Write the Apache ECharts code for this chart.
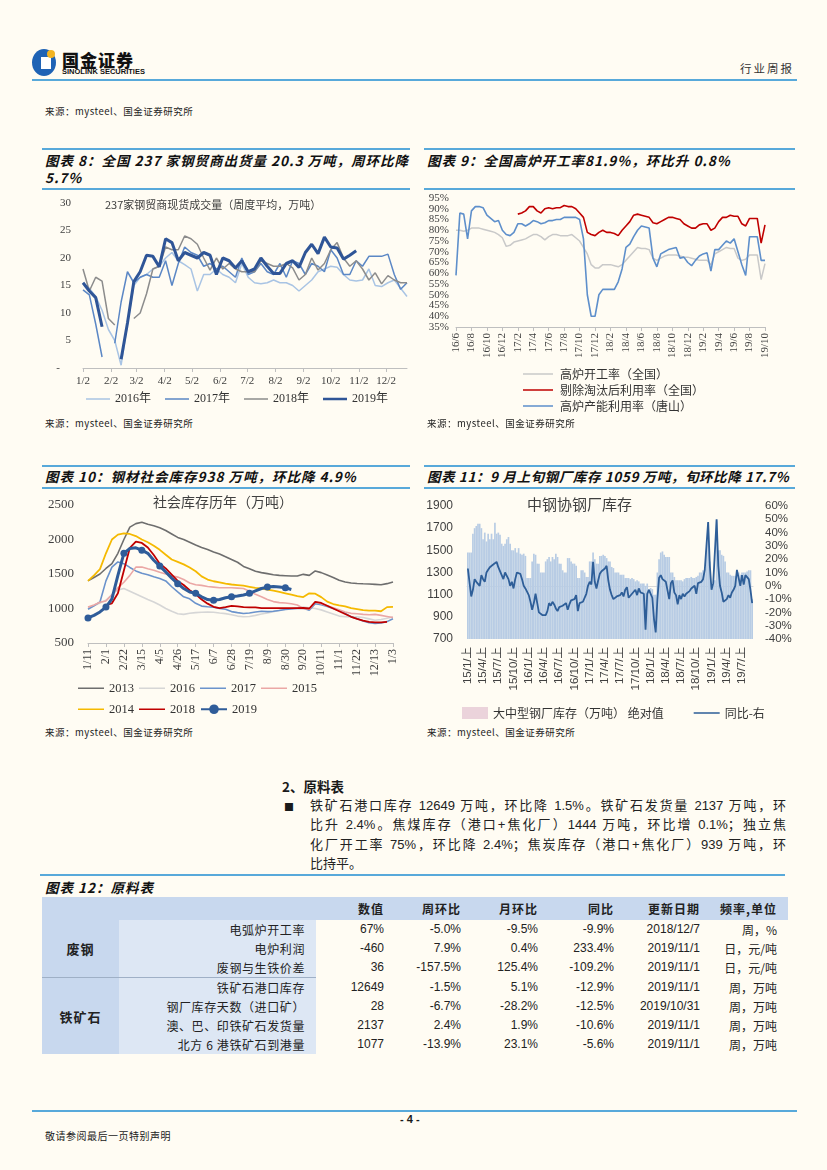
<!DOCTYPE html>
<html><head><meta charset="utf-8">
<script src="https://cdn.jsdelivr.net/npm/echarts@6/dist/echarts.min.js"></script>
<style>
html,body{margin:0;padding:0;}
body{width:827px;height:1170px;background:#fffcf3;position:relative;overflow:hidden;font-family:"Noto Sans CJK SC","Liberation Sans",sans-serif;color:#1a1a1a;}
.a{position:absolute;white-space:nowrap;}
.hl{position:absolute;height:2px;background:#58a9da;}
.ttl{position:absolute;white-space:nowrap;font-weight:bold;font-style:italic;font-size:13.5px;line-height:17px;letter-spacing:1px;color:#111;}
.src{position:absolute;white-space:nowrap;font-size:9.5px;color:#222;letter-spacing:0.5px;}
.ch{position:absolute;}
.pl{position:absolute;left:310px;width:476px;font-size:13px;line-height:18px;text-align:justify;text-align-last:justify;white-space:nowrap;font-family:"Liberation Sans","Noto Sans CJK SC",sans-serif;color:#222;}
#tb{position:absolute;left:42px;top:897px;border-collapse:collapse;table-layout:fixed;width:746px;}
#tb td{padding:0;height:19px;line-height:19px;text-align:right;font-family:"Liberation Sans",Arial,"Noto Sans CJK SC",sans-serif;font-size:12px;color:#222;white-space:nowrap;overflow:visible;}
#tb tr.hd td{height:23px;line-height:23px;background:#c8d8ee;font-family:"Noto Sans CJK SC",sans-serif;font-weight:bold;letter-spacing:1px;}
#tb td.g{background:#c8d8ee;text-align:center;font-family:"Noto Sans CJK SC",sans-serif;font-weight:bold;font-size:13px;letter-spacing:1px;}
#tb td.lb{background:#dde7f4;padding-right:11px;font-family:"Noto Sans CJK SC",sans-serif;letter-spacing:0.6px;}
#tb td.last{padding-right:11px;font-family:"Noto Sans CJK SC",sans-serif;}
#tb tr.sep td.g,#tb tr.sep td.lb{border-top:1px solid #9fb0c6;}
</style></head><body>

<!-- header -->
<div class="a" style="left:32px;top:49px;width:24px;height:27px;border-radius:50%;background:#1f63b5;"></div>
<div class="a" style="left:41px;top:57px;width:10px;height:12px;background:#ffffff;"></div>
<div class="a" style="left:47px;top:50px;width:8px;height:8px;border-radius:50%;background:#f2b321;"></div>
<div class="a" style="left:62px;top:47px;font-size:17px;font-weight:900;letter-spacing:1px;color:#111;">国金证券</div>
<div class="a" style="left:62px;top:67px;font-size:7.5px;font-weight:bold;font-family:'Liberation Sans',sans-serif;color:#111;">SINOLINK SECURITIES</div>
<div class="a" style="left:740px;top:60px;font-size:11.5px;letter-spacing:2px;color:#333;">行业周报</div>
<div class="hl" style="left:32px;top:79px;width:765px;"></div>
<div class="src" style="left:45px;top:104px;">来源：mysteel、国金证券研究所</div>

<!-- chart 8/9 titles -->
<div class="hl" style="left:42px;top:148px;width:368px;height:1.5px;"></div>
<div class="hl" style="left:424px;top:148px;width:371px;height:1.5px;"></div>
<div class="ttl" style="left:45px;top:152px;">图表 8：全国 237 家钢贸商出货量 20.3 万吨，周环比降</div>
<div class="ttl" style="left:45px;top:169px;">5.7%</div>
<div class="ttl" style="left:427px;top:152px;">图表 9：全国高炉开工率81.9%，环比升 0.8%</div>
<div class="hl" style="left:42px;top:188px;width:368px;"></div>
<div class="hl" style="left:424px;top:188px;width:371px;"></div>

<div id="c8" class="ch" style="left:40px;top:190px;width:372px;height:222px;"></div>
<div id="c9" class="ch" style="left:420px;top:190px;width:380px;height:250px;"></div>

<div class="src" style="left:45px;top:416px;">来源：mysteel、国金证券研究所</div>
<div class="src" style="left:427px;top:416px;">来源：mysteel、国金证券研究所</div>

<!-- chart 10/11 titles -->
<div class="hl" style="left:42px;top:465px;width:368px;height:1.5px;"></div>
<div class="hl" style="left:424px;top:465px;width:371px;height:1.5px;"></div>
<div class="ttl" style="left:45px;top:468px;">图表 10：钢材社会库存938 万吨，环比降 4.9%</div>
<div class="ttl" style="left:427px;top:468px;letter-spacing:0.6px;">图表 11：9 月上旬钢厂库存 1059 万吨，旬环比降 17.7%</div>
<div class="hl" style="left:42px;top:487px;width:368px;"></div>
<div class="hl" style="left:424px;top:487px;width:371px;"></div>

<div id="c10" class="ch" style="left:40px;top:490px;width:372px;height:235px;"></div>
<div id="c11" class="ch" style="left:420px;top:490px;width:380px;height:235px;"></div>

<div class="src" style="left:45px;top:725px;">来源：mysteel、国金证券研究所</div>
<div class="src" style="left:427px;top:725px;">来源：mysteel、国金证券研究所</div>

<!-- section text -->
<div class="a" style="left:282px;top:776px;font-size:13.5px;font-weight:bold;">2、原料表</div>
<div class="a" style="left:284px;top:799px;font-size:10px;">■</div>
<div class="pl" style="top:797px;">铁矿石港口库存 12649 万吨，环比降 1.5%。铁矿石发货量 2137 万吨，环</div>
<div class="pl" style="top:816px;">比升 2.4%。焦煤库存（港口+焦化厂）1444 万吨，环比增 0.1%；独立焦</div>
<div class="pl" style="top:836px;">化厂开工率 75%，环比降 2.4%；焦炭库存（港口+焦化厂）939 万吨，环</div>
<div class="pl" style="top:855px;text-align-last:left;">比持平。</div>
<div class="hl" style="left:40px;top:874px;width:745px;"></div>
<div class="ttl" style="left:45px;top:879px;">图表 12：原料表</div>

<table id="tb">
<colgroup><col style="width:77px"><col style="width:197px"><col style="width:68px"><col style="width:77px"><col style="width:77px"><col style="width:76px"><col style="width:86px"><col style="width:88px"></colgroup>
<tr class="hd"><td></td><td></td><td>数值</td><td>周环比</td><td>月环比</td><td>同比</td><td>更新日期</td><td style="padding-right:11px;">频率,单位</td></tr>
<tr><td rowspan="3" class="g">废钢</td><td class="lb">电弧炉开工率</td><td>67%</td><td>-5.0%</td><td>-9.5%</td><td>-9.9%</td><td>2018/12/7</td><td class="last">周，%</td></tr>
<tr><td class="lb">电炉利润</td><td>-460</td><td>7.9%</td><td>0.4%</td><td>233.4%</td><td>2019/11/1</td><td class="last">日，元/吨</td></tr>
<tr><td class="lb">废钢与生铁价差</td><td>36</td><td>-157.5%</td><td>125.4%</td><td>-109.2%</td><td>2019/11/1</td><td class="last">日，元/吨</td></tr>
<tr class="sep"><td rowspan="4" class="g">铁矿石</td><td class="lb">铁矿石港口库存</td><td>12649</td><td>-1.5%</td><td>5.1%</td><td>-12.9%</td><td>2019/11/1</td><td class="last">周，万吨</td></tr>
<tr><td class="lb">钢厂库存天数（进口矿）</td><td>28</td><td>-6.7%</td><td>-28.2%</td><td>-12.5%</td><td>2019/10/31</td><td class="last">周，万吨</td></tr>
<tr><td class="lb">澳、巴、印铁矿石发货量</td><td>2137</td><td>2.4%</td><td>1.9%</td><td>-10.6%</td><td>2019/11/1</td><td class="last">周，万吨</td></tr>
<tr><td class="lb">北方 6 港铁矿石到港量</td><td>1077</td><td>-13.9%</td><td>23.1%</td><td>-5.6%</td><td>2019/11/1</td><td class="last">周，万吨</td></tr>
</table>

<!-- footer -->
<div class="hl" style="left:32px;top:1110px;width:765px;"></div>
<div class="a" style="left:400px;top:1113px;font-size:11px;font-weight:bold;font-family:'Liberation Sans',sans-serif;">- 4 -</div>
<div class="a" style="left:45px;top:1128px;font-size:10px;letter-spacing:0.5px;">敬请参阅最后一页特别声明</div>

<script>
const SERIF='"Liberation Serif","Times New Roman","Noto Sans CJK SC",serif';
const SANS='"Liberation Sans",Arial,"Noto Sans CJK SC",sans-serif';
const CJK='"Noto Sans CJK SC","Liberation Sans",sans-serif';

/* ---------- chart 8 data ---------- */
const tickLabels8=['1/2','2/2','3/2','4/2','5/2','6/2','7/2','8/2','9/2','10/2','11/2','12/2'];
const tickDays8=[0,31,59,90,120,151,181,212,243,273,304,334];
const weekDays8=7;
const y2016=[15.5,14.5,13,10.5,7,5,0.5,8,15,16.5,17,18,18.5,20,21,19.5,18.8,18,14,17,17,18,17,16.5,15.5,19,16.5,15.5,15.3,15.5,16,15.5,15.5,15,14,15,16,17.5,18,18.5,18.3,17,16,15.8,16,18,15,14.8,15.5,16,14.5,13];
const y2017=[14.2,13.3,8,2,null,4.5,12,17.5,15.5,16.5,17,16.5,16.5,19.5,15,19,22,21,20.5,18.5,19,18,18.5,17.5,16.5,20,17,17.5,19,17.5,17,19,16.5,19.5,19,17,19,18.5,17.5,21.5,20,17,17,19.5,18.5,20.3,20.3,20.3,20.7,17,14.3,15.5];
const y2018=[18,14,16.5,15.8,9,7.8,null,null,9,10,13.5,18,18.5,22,21.5,21.5,24,23.5,22.5,20,17.8,20,18,19,18,17.5,17.5,17.5,19.5,19,18.5,18.5,19,18.2,16,17,20,17.8,19,21.5,22.8,20,18.5,19.5,18,16,17.3,15.3,16.8,16,15.5,15.5];
const y2019=[15.5,14,12.8,7.5,null,null,1.6,8.2,15.7,17.5,20.5,20.3,18.4,23.5,22.8,19.5,21,20.5,20,21,20.5,17,20,19.5,18.2,19.5,17.5,18,20,18.5,17.2,17.2,19,19.5,18.3,21,22.5,20.8,23.8,22,21.8,19.8,20.5,21.3];

/* ---------- chart 9 data ---------- */
const months9=['16/6','16/7','16/8','16/9','16/10','16/11','16/12','17/1','17/2','17/3','17/4','17/5','17/6','17/7','17/8','17/9','17/10','17/11','17/12','18/1','18/2','18/3','18/4','18/5','18/6','18/7','18/8','18/9','18/10','18/11','18/12','19/1','19/2','19/3','19/4','19/5','19/6','19/7','19/8','19/9','19/10'];
const yTicks9a=[35,45,55,65,75,85,95];
const yTicks9b=[40,50,60,70,80,90];
const bfNational=[80,80,79.5,80,81,81,81,80.5,80,79.5,79,78,76.5,72.5,73,74.5,75,75.5,76,77,78,78,77,75.5,77,78,78,77.5,77.5,77.5,78,76.5,75,72,69,64,62.5,62.5,64,64,64,63.5,63,64,66,68,70,72,71.5,71.5,71,67,66,67,68,68.5,68.5,68.5,68,67.5,67.5,67,66.5,66,66,66,64,69,70,71,72,71.5,71.5,67,66,66.5,68.5,68.5,68.5,57,64.5];
const bfExcl=[null,null,null,null,null,null,null,null,null,null,null,null,null,null,null,null,87.5,88,89,91,91,89,88,90,90.5,90,90.5,90.5,91.5,91,91,90,88,86,79,78,77.5,79,80,79,79,78.5,77.5,80,82,84,87,87.5,87,86.5,86,83.5,83,84,85,86,86,85.5,85,83,82,81,81,82.5,83,83,80,81,84,86,86,87,86.5,86.5,83,82,85.5,85.5,85.5,74,82.5];
const bfTangshan=[59,88,87.5,76,89,91,91,90.5,87,85.5,84,84.5,80,78,77.5,79,83,83,82,83,84.5,84,83,83.5,84.5,84.5,85,85,86,86,86,86,85,76,50,40,40,50,52.5,52.5,52.5,52.5,56,62,72,73.5,77,80,82,81.5,81,67,63,69,70,71,71.5,72,67,67.5,65,63.5,66,68,69,69.5,61,71,71,73,75,74,76,70,64,59,77,77,77,66,66];

/* ---------- chart 10 data ---------- */
const weeks10=['1/11','1/18','1/25','2/1','2/8','2/15','2/22','3/1','3/8','3/15','3/22','3/29','4/5','4/12','4/19','4/26','5/3','5/10','5/17','5/24','5/31','6/7','6/14','6/21','6/28','7/5','7/12','7/19','7/26','8/2','8/9','8/16','8/23','8/30','9/6','9/13','9/20','9/27','10/4','10/11','10/18','10/25','11/1','11/8','11/15','11/22','11/29','12/6','12/13','12/20','12/27','1/3'];
const s2013=[1400,1450,1500,1580,1650,1800,2000,2180,2230,2250,2220,2200,2170,2130,2080,2030,2000,1960,1920,1885,1855,1820,1790,1750,1710,1670,1610,1575,1540,1520,1505,1490,1480,1475,1470,1470,1495,1480,1545,1520,1485,1450,1410,1385,1370,1362,1358,1355,1350,1345,1360,1385];
const s2014=[1400,1480,1570,1800,2000,2070,2090,2080,2050,2000,1960,1910,1850,1780,1710,1675,1640,1595,1540,1465,1420,1395,1380,1360,1348,1340,1330,1315,1300,1290,1275,1260,1240,1220,1200,1180,1165,1220,1215,1165,1100,1065,1045,1030,1005,990,975,968,970,960,1020,1025];
const s2015=[1020,1050,1090,1110,1200,1300,1380,1480,1600,1600,1575,1555,1525,1500,1475,1455,1420,1370,1345,1335,1320,1310,1300,1300,1300,1295,1290,1250,1205,1170,1130,1100,1085,1080,1070,1050,1000,990,1095,1070,1040,1010,980,950,930,925,915,910,915,900,885,870];
const s2016=[1000,1040,1080,1120,1200,1270,1290,1250,1210,1170,1130,1095,1050,1000,960,925,915,930,940,945,950,945,935,926,910,890,880,885,900,920,935,955,975,990,1000,1010,1020,1010,1000,980,950,920,890,880,878,878,870,850,830,840,860,878];
const s2017=[990,1040,1095,1400,1600,1675,1650,1595,1545,1510,1490,1460,1435,1400,1315,1240,1170,1140,1075,1035,1025,1020,1000,990,955,940,928,935,950,960,955,960,970,985,995,1000,1005,975,1070,1055,1030,1000,970,930,880,850,820,795,785,790,810,850];
const s2018=[null,null,null,1050,1075,1220,1550,1880,1970,1950,1885,1775,1650,1580,1490,1400,1340,1265,1210,1130,1070,1025,1005,1020,1037,1030,1020,1015,1015,1005,1005,1005,1005,1005,1005,1005,1010,1000,1095,1080,1040,1000,960,920,880,850,825,805,800,800,805,null];
const s2019=[863,900,950,1020,1140,1480,1800,1870,1880,1845,1800,1700,1615,1530,1440,1360,1290,1240,1220,1170,1130,1120,1130,1155,1170,1180,1195,1220,1255,1290,1310,1320,1312,1300,1275];

/* ---------- chart 11 data ---------- */
const years11=['15','16','17','18','19'];
const dekads11=['上','中','下'];
const leftTicks11=[700,900,1100,1300,1500,1700,1900];
const stock11=[
1480,1480,1480,1650,1700,1720,1740,1740,1700,1600,
1660,1580,1650,1600,1650,1600,1750,1650,1660,1640,
1560,1540,1560,1600,1620,1560,1500,1500,1520,1480,
1520,1470,1460,1470,1450,1250,1250,1250,1400,1470,
1460,1380,1380,1300,1300,1300,1400,1420,1440,1400,
1440,1420,1470,1440,1380,1380,1320,1300,1300,1430,
1430,1400,1380,1380,1360,1250,1250,1320,1320,1300,
1260,1260,1400,1400,1480,1420,1380,1380,1450,
1450,1460,1450,1430,1400,1400,1350,1340,1300,1300,
1300,1280,1280,1280,1250,1250,1250,1240,1250,1240,
1220,1230,1220,1200,1200,1200,1180,1200,1150,1160,
1150,1100,1100,1300,1420,1480,1490,1460,1440,1440,
1440,1300,1300,1260,1230,1230,1230,1230,1220,1240,
1250,1250,1250,1260,1250,1250,1260,1270,1300,1300,
1320,1330,1500,1750,1400,
1200,1200,1230,1770,
1500,1500,1460,1450,1400,1300,1300,1280,1270,1270,
1270,1300,1300,1280,1300,1300,1300,1310,1320,1320,
1059];
const yoy11=[
13,13,-8,-3,5,3,2,0,8,5,
3,10,12,14,13,16,16,18,14,13,
8,5,10,9,5,0,3,-2,5,10,
11,9,5,0,-2,-2,-7,-12,-18,-13,
-6,-13,-20,-21,-22,-22,-22,-19,-13,-15,
-12,-14,-17,-19,-16,-16,-15,-14,-13,-18,
-14,-11,-12,-10,-7,-19,-13,-12,-12,-11,
-6,0,3,1,18,3,-2,4,9,
11,12,13,15,4,-3,-7,-10,-9,-8,
-8,-7,-5,-8,-3,-1,-9,-8,-6,-6,
-3,-7,-2,-5,-5,-6,-33,-6,-3,-4,
-9,-25,-35,-10,6,8,5,4,3,3,
-10,2,4,-5,-7,-14,-7,-10,-6,-8,
-6,-5,-4,-2,-1,0,-6,2,2,3,
5,12,30,48,15,
-3,2,3,50,
15,0,-5,-12,-13,-10,-7,-9,-5,-3,
0,12,6,0,8,1,8,7,5,-3,
-13];

/* ---------- build charts ---------- */
const AX='#bfbfbf';
const ICON_THIN='path://M0,0h0.5v0.01h-0.5zM0,4.2h30v1.6h-30zM0,9.99h0.5v0.01h-0.5z';
const ICON_THICK='path://M0,0h0.5v0.01h-0.5zM0,3.4h30v3.2h-30zM0,9.99h0.5v0.01h-0.5z';
function lineS(name,data,color,width,extra){
  return Object.assign({name:name,type:'line',data:data,symbol:'none',connectNulls:false,
    lineStyle:{color:color,width:width},itemStyle:{color:color},emphasis:{disabled:true}},extra||{});
}
const plain=v=>String(v);

// chart 8
(function(){
  const ch=echarts.init(document.getElementById('c8'));
  const pairs=a=>a.map((v,i)=>[i*weekDays8,v]);
  ch.setOption({
    animation:false,backgroundColor:'transparent',
    grid:{left:43,top:13,width:324,height:165,outerBoundsMode:'none'},
    title:{text:'237家钢贸商现货成交量（周度平均，万吨）',left:60,top:4,textStyle:{fontFamily:CJK,fontSize:11,fontWeight:'normal',color:'#404040'}},
    legend:{left:46,top:203,width:330,padding:0,itemWidth:24,itemHeight:10,itemGap:14,textStyle:{fontFamily:SERIF,fontSize:12,color:'#333'},
      data:[{name:'2016年',icon:ICON_THIN},{name:'2017年',icon:ICON_THIN},{name:'2018年',icon:ICON_THIN},{name:'2019年',icon:ICON_THICK}]},
    xAxis:{type:'value',min:0,max:51*weekDays8,splitLine:{show:false},
      axisLine:{show:true,lineStyle:{color:AX}},
      axisTick:{show:true,customValues:tickDays8,length:4,lineStyle:{color:AX}},
      axisLabel:{customValues:tickDays8,formatter:v=>{const i=tickDays8.indexOf(v);return i>=0?tickLabels8[i]:'';},fontFamily:SERIF,fontSize:11,color:'#404040',margin:8}},
    yAxis:{type:'value',min:0,max:30,interval:5,splitLine:{show:false},axisLine:{show:false},axisTick:{show:false},
      axisLabel:{formatter:v=>v===0?'-    ':String(v),showMinLabel:true,showMaxLabel:true,fontFamily:SERIF,fontSize:11,color:'#404040',margin:12}},
    series:[
      lineS('2016年',pairs(y2016),'#a9c4e4',1.5),
      lineS('2017年',pairs(y2017),'#5b87c5',1.5),
      lineS('2018年',pairs(y2018),'#8c8c8c',1.5),
      lineS('2019年',pairs(y2019),'#2f5597',3)
    ]
  });
})();

// chart 9
(function(){
  const ch=echarts.init(document.getElementById('c9'));
  const cats=[];
  months9.forEach((m,i)=>{cats.push(m);if(i<months9.length-1)cats.push(m+' 下');});
  const yBase={type:'value',min:35,max:95,position:'left',offset:0,splitLine:{show:false},axisLine:{show:false},axisTick:{show:false}};
  const yLab={formatter:'{value}%',showMinLabel:true,showMaxLabel:true,fontFamily:SERIF,fontSize:11,color:'#404040',margin:7};
  ch.setOption({
    animation:false,backgroundColor:'transparent',
    grid:{left:36,top:8,width:309,height:129,outerBoundsMode:'none'},
    legend:{orient:'vertical',left:98,top:173,height:70,itemWidth:34,itemHeight:10,itemGap:4,textStyle:{fontFamily:CJK,fontSize:12,color:'#333'},
      data:[{name:'高炉开工率（全国）',icon:ICON_THIN},{name:'剔除淘汰后利用率（全国）',icon:ICON_THIN},{name:'高炉产能利用率（唐山）',icon:ICON_THIN}]},
    xAxis:{type:'category',data:cats,boundaryGap:false,
      axisLine:{lineStyle:{color:AX}},axisTick:{interval:3,length:4,lineStyle:{color:AX}},
      axisLabel:{interval:3,rotate:90,formatter:v=>v.split(' ')[0],fontFamily:SERIF,fontSize:11,color:'#404040',margin:6}},
    yAxis:[
      Object.assign({},yBase,{axisLabel:Object.assign({customValues:yTicks9a},yLab)}),
      Object.assign({},yBase,{axisLabel:Object.assign({customValues:yTicks9b},yLab)})
    ],
    series:[
      lineS('高炉开工率（全国）',bfNational,'#c9c9c9',1.5),
      lineS('剔除淘汰后利用率（全国）',bfExcl,'#c00000',1.6),
      lineS('高炉产能利用率（唐山）',bfTangshan,'#5e8fcb',1.6)
    ]
  });
})();

// chart 10
(function(){
  const ch=echarts.init(document.getElementById('c10'));
  const lg={itemWidth:26,itemHeight:12,itemGap:5,padding:0,textStyle:{fontFamily:SERIF,fontSize:12.5,color:'#333'}};
  ch.setOption({
    animation:false,backgroundColor:'transparent',
    grid:{left:48,top:15,width:305,height:138,outerBoundsMode:'none'},
    title:{text:'社会库存历年（万吨）',left:108,top:0,textStyle:{fontFamily:CJK,fontSize:14,fontWeight:'normal',color:'#404040'}},
    legend:[
      Object.assign({left:38,top:192,data:[{name:'2013',icon:ICON_THIN},{name:'2016',icon:ICON_THIN},{name:'2017',icon:ICON_THIN},{name:'2015',icon:ICON_THIN}]},lg),
      Object.assign({left:38,top:213,data:[{name:'2014',icon:ICON_THIN},{name:'2018',icon:ICON_THIN},'2019']},lg)
    ],
    xAxis:{type:'category',data:weeks10,boundaryGap:false,
      axisLine:{lineStyle:{color:AX}},axisTick:{interval:2,length:4,lineStyle:{color:AX}},
      axisLabel:{interval:2,rotate:90,fontFamily:SERIF,fontSize:12,color:'#404040',margin:6}},
    yAxis:{type:'value',min:500,max:2500,interval:500,splitLine:{show:false},axisLine:{show:false},axisTick:{show:false},
      axisLabel:{formatter:plain,showMinLabel:true,showMaxLabel:true,fontFamily:SERIF,fontSize:13,color:'#404040',margin:14}},
    series:[
      lineS('2013',s2013,'#6e6e6e',1.6),
      lineS('2016',s2016,'#d6d6d6',1.6),
      lineS('2017',s2017,'#6b93cc',1.6),
      lineS('2015',s2015,'#eba7a5',1.6),
      lineS('2014',s2014,'#f5b900',1.8),
      lineS('2018',s2018,'#c00000',1.8),
      lineS('2019',s2019,'#2f5c99',3,{symbol:'circle',symbolSize:7,showSymbol:true})
    ]
  });
})();

// chart 11
(function(){
  const ch=echarts.init(document.getElementById('c11'));
  const cats=[];
  years11.forEach(y=>{for(let m=1;m<=12;m++){dekads11.forEach(d=>cats.push(y+'/'+m+'/'+d));}});
  const c=cats.slice(0,stock11.length);
  ch.setOption({
    animation:false,backgroundColor:'transparent',
    grid:{left:47,top:16,width:286,height:133,outerBoundsMode:'none'},
    title:{text:'中钢协钢厂库存',left:102,top:2,textStyle:{fontFamily:CJK,fontSize:15,fontWeight:'normal',color:'#404040'}},
    legend:{left:37,top:212,itemWidth:26,itemHeight:12,itemGap:30,textStyle:{fontFamily:CJK,fontSize:12,color:'#333'},
      data:[{name:'大中型钢厂库存（万吨） 绝对值',icon:'rect',itemStyle:{color:'#ebd3db'}},{name:'同比-右',icon:ICON_THIN}]},
    xAxis:{type:'category',data:c,boundaryGap:true,
      axisLine:{lineStyle:{color:'#d9d9d9'}},axisTick:{interval:2,length:3,lineStyle:{color:'#d0d0d0'}},
      axisLabel:{interval:8,rotate:90,fontFamily:SANS,fontSize:11.5,color:'#404040',margin:8}},
    yAxis:[
      {type:'value',min:700,max:1900,splitLine:{show:false},axisLine:{show:false},axisTick:{show:false},
        axisLabel:{customValues:leftTicks11,formatter:plain,fontFamily:SANS,fontSize:12,color:'#404040',margin:14}},
      {type:'value',min:-40,max:60,interval:10,position:'right',splitLine:{show:false},axisLine:{show:false},axisTick:{show:false},
        axisLabel:{formatter:'{value}%',showMinLabel:true,showMaxLabel:true,fontFamily:SANS,fontSize:11.5,color:'#404040',margin:12}}
    ],
    series:[
      {name:'大中型钢厂库存（万吨） 绝对值',type:'bar',data:stock11,yAxisIndex:0,barCategoryGap:'0%',itemStyle:{color:'#b8cce4'},emphasis:{disabled:true}},
      lineS('同比-右',yoy11,'#2e5e98',1.8,{yAxisIndex:1})
    ]
  });
})();
</script>
</body></html>
